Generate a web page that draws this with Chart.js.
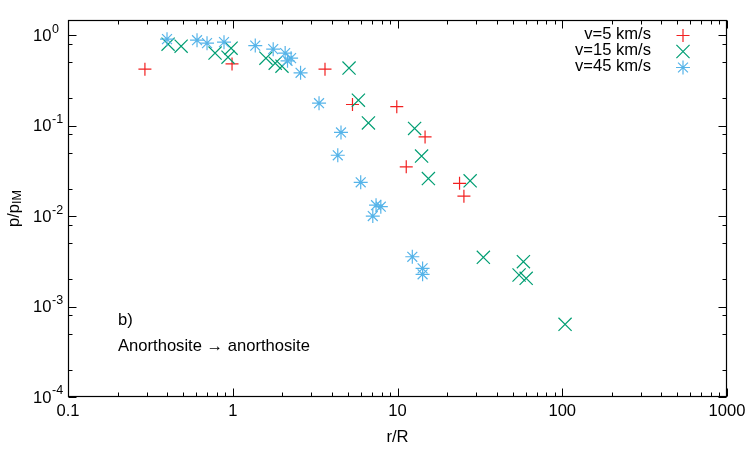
<!DOCTYPE html>
<html>
<head>
<meta charset="utf-8">
<script src="https://cdn.jsdelivr.net/npm/chart.js"></script>
<style>
  html, body { margin: 0; padding: 0; background: #fff; }
</style>
</head>
<body>
<canvas id="chart" width="750" height="450"></canvas>
<script>
// r/R and p/p_IM, one pair of arrays per impact speed
const v5R  = [0.293, 0.99, 3.63, 5.33, 9.9, 11.3, 14.7, 23.8, 25.3];
const v5P  = [0.42, 0.48, 0.42, 0.171, 0.162, 0.035, 0.075, 0.023, 0.0166];

const v15R = [0.405, 0.486, 0.781, 0.936, 0.977, 1.59, 1.81, 1.99, 5.08, 5.79, 6.66, 12.7, 14.0, 15.4, 27.6, 33.2, 54.7, 58.1, 60.4, 104];
const v15P = [0.795, 0.756, 0.633, 0.571, 0.718, 0.557, 0.49, 0.454, 0.432, 0.191, 0.107, 0.093, 0.046, 0.026, 0.0245, 0.0035, 0.00223, 0.00313, 0.00205, 0.000636];

const v45R = [0.399, 0.607, 0.698, 0.885, 1.37, 1.76, 2.08, 2.26, 2.15, 2.58, 3.34, 4.54, 4.34, 5.98, 7.41, 7.92, 7.08, 12.3, 14.2, 14.2];
const v45P = [0.903, 0.88, 0.816, 0.837, 0.766, 0.70, 0.633, 0.557, 0.52, 0.383, 0.177, 0.084, 0.047, 0.0236, 0.0132, 0.0127, 0.0100, 0.00355, 0.00264, 0.00227];

const seriesLabels = ['v=5 km/s', 'v=15 km/s', 'v=45 km/s'];
const xTickValues = [0.1, 1, 10, 100, 1000];
const xTickLabels = ['0.1', '1', '10', '100', '1000'];
const yTickValues = [1e-4, 1e-3, 1e-2, 1e-1, 1];
const yTickExponents = ['-4', '-3', '-2', '-1', '0'];
const xMinorSteps = [2, 3, 4, 5, 6, 7, 8, 9];
const yMinorSteps = [2, 5, 8];

const FONT = '"Liberation Sans", Arial, Helvetica, sans-serif';
const FS = 16.6;
Chart.defaults.font.family = FONT;

const toPoints = (xs, ys) => xs.map((v, i) => ({x: v, y: ys[i]}));

const styles = [
    {color: '#f22020', pointStyle: 'cross', radius: 6.5},
    {color: '#009e73', pointStyle: 'crossRot', radius: 9.3},
    {color: '#56b4e9', pointStyle: 'star', radius: 7}
];

const datasets = [[v5R, v5P], [v15R, v15P], [v45R, v45P]].map(([xs, ys], i) => ({
    label: seriesLabels[i],
    data: toPoints(xs, ys),
    pointStyle: styles[i].pointStyle,
    pointRadius: styles[i].radius,
    pointHoverRadius: styles[i].radius,
    borderColor: styles[i].color,
    backgroundColor: styles[i].color,
    pointBorderWidth: 1.2,
    showLine: false,
    order: 3 - i
}));

// gnuplot-like frame, inward ticks, exponent labels, titles and key
const framePlugin = {
    id: 'frame',
    afterDraw(chart) {
        const {ctx, chartArea: a, scales: {x, y}} = chart;
        ctx.save();
        ctx.strokeStyle = '#000';
        ctx.lineWidth = 1;

        const L = Math.round(a.left) + 0.5, R = Math.round(a.right) - 0.5;
        const T = Math.round(a.top) + 0.5, B = Math.round(a.bottom) - 0.5;

        ctx.beginPath();
        const xTick = (v, len) => {
            const px = Math.round(x.getPixelForValue(v)) + 0.5;
            ctx.moveTo(px, B); ctx.lineTo(px, B - len);
            ctx.moveTo(px, T); ctx.lineTo(px, T + len);
        };
        const yTick = (v, len) => {
            const py = Math.round(y.getPixelForValue(v)) + 0.5;
            ctx.moveTo(L, py); ctx.lineTo(L + len, py);
            ctx.moveTo(R, py); ctx.lineTo(R - len, py);
        };
        xTickValues.forEach((d, i) => {
            xTick(d, 8);
            if (i < xTickValues.length - 1) xMinorSteps.forEach(k => xTick(d * k, 4));
        });
        yTickValues.forEach(d => {
            if (d <= y.max) yTick(d, 8);
            yMinorSteps.forEach(k => { if (d * k <= y.max && d * k >= y.min) yTick(d * k, 4); });
        });
        ctx.stroke();

        ctx.lineWidth = 1.2;
        ctx.strokeRect(L, T, R - L, B - T);

        ctx.fillStyle = '#000';
        ctx.textBaseline = 'middle';
        ctx.textAlign = 'left';
        yTickValues.forEach((d, i) => {
            const py = y.getPixelForValue(d);
            ctx.font = FS + 'px ' + FONT;
            ctx.fillText('10', 33, py + 1);
            ctx.font = '12.5px ' + FONT;
            ctx.fillText(yTickExponents[i], 52, py - 6);
        });

        // axis titles
        ctx.textAlign = 'center';
        ctx.font = FS + 'px ' + FONT;
        ctx.fillText('r/R', (a.left + a.right) / 2, 437);

        ctx.save();
        ctx.translate(15, (a.top + a.bottom) / 2);
        ctx.rotate(-Math.PI / 2);
        ctx.textAlign = 'left';
        const base = 'p/p';
        ctx.font = FS + 'px ' + FONT;
        const wBase = ctx.measureText(base).width;
        ctx.font = '12.5px ' + FONT;
        const wSub = ctx.measureText('IM').width;
        const start = -(wBase + wSub) / 2;
        ctx.font = FS + 'px ' + FONT;
        ctx.fillText(base, start, -1);
        ctx.font = '12.5px ' + FONT;
        ctx.fillText('IM', start + wBase, 3);
        ctx.restore();

        // annotations
        ctx.textAlign = 'left';
        ctx.font = FS + 'px ' + FONT;
        ctx.fillText('b)', 118, 320);
        ctx.fillText('Anorthosite \u2192 anorthosite', 118, 346);

        // key
        ctx.textAlign = 'right';
        chart.data.datasets.forEach((ds, i) => {
            const ty = 34 + i * 16;
            ctx.fillStyle = '#000';
            ctx.fillText(ds.label, 651, ty);
            ctx.strokeStyle = ds.borderColor;
            ctx.lineWidth = 1.2;
            Chart.helpers.drawPoint(ctx, {
                pointStyle: ds.pointStyle, radius: ds.pointRadius, borderWidth: 1.2, rotation: 0
            }, 683, ty + 1.5);
        });
        ctx.restore();
    }
};

new Chart(document.getElementById('chart'), {
    type: 'scatter',
    data: {datasets},
    options: {
        responsive: false,
        animation: false,
        layout: {padding: {left: 0, right: 23, top: 20, bottom: 0}},
        plugins: {legend: {display: false}, tooltip: {enabled: false}},
        scales: {
            x: {
                type: 'logarithmic',
                min: 0.1,
                max: 1000,
                border: {display: false},
                grid: {display: false, drawTicks: false},
                afterBuildTicks: s => { s.ticks = xTickValues.map(v => ({value: v})); },
                afterFit: s => { s.height = 53; s.paddingLeft = 0; s.paddingRight = 0; },
                ticks: {
                    autoSkip: false,
                    maxRotation: 0,
                    padding: 4,
                    color: '#000',
                    font: {size: FS},
                    callback: v => xTickLabels[xTickValues.indexOf(v)] ?? ''
                }
            },
            y: {
                type: 'logarithmic',
                min: 1e-4,
                max: 1.47,
                border: {display: false},
                grid: {display: false, drawTicks: false},
                afterFit: s => { s.width = 68; },
                ticks: {display: false}
            }
        }
    },
    plugins: [framePlugin]
});
</script>
</body>
</html>
